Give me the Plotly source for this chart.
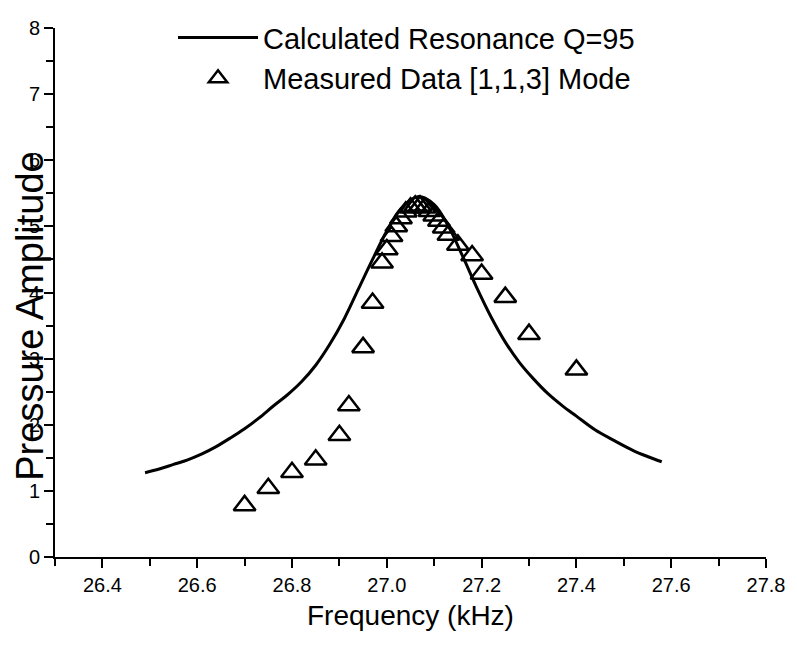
import plotly.graph_objects as go

# Calculated resonance curve
calc_freq = [26.49, 26.52, 26.55, 26.58, 26.61, 26.64, 26.67, 26.70, 26.73, 26.76,
             26.79, 26.82, 26.85, 26.88, 26.91, 26.94, 26.97, 27.00, 27.03, 27.065,
             27.10, 27.13, 27.16, 27.19, 27.22, 27.25, 27.28, 27.31, 27.34, 27.37,
             27.40, 27.44, 27.48, 27.52, 27.55, 27.58]
calc_amp = [1.275, 1.33, 1.40, 1.47, 1.56, 1.67, 1.80, 1.94, 2.10, 2.28,
            2.45, 2.65, 2.90, 3.22, 3.60, 4.05, 4.50, 4.93, 5.27, 5.45,
            5.33, 5.00, 4.55, 4.07, 3.63, 3.25, 2.94, 2.69, 2.47, 2.29,
            2.13, 1.92, 1.76, 1.61, 1.52, 1.44]

# Measured data, [1,1,3] mode
meas_freq = [26.70, 26.75, 26.80, 26.85, 26.90, 26.92, 26.95, 26.97, 26.99, 27.00,
             27.01, 27.02, 27.03, 27.04, 27.05, 27.06, 27.07, 27.08, 27.09, 27.10,
             27.11, 27.12, 27.13, 27.15, 27.18, 27.20, 27.25, 27.30, 27.40]
meas_amp = [0.78, 1.04, 1.28, 1.47, 1.84, 2.29, 3.17, 3.84, 4.45, 4.65,
            4.85, 5.00, 5.12, 5.22, 5.28, 5.31, 5.31, 5.28, 5.23, 5.16,
            5.08, 4.98, 4.87, 4.72, 4.56, 4.28, 3.93, 3.37, 2.83]

x_tick_vals = [26.4, 26.6, 26.8, 27.0, 27.2, 27.4, 27.6, 27.8]
x_tick_text = ["26.4", "26.6", "26.8", "27.0", "27.2", "27.4", "27.6", "27.8"]
y_tick_vals = [0, 1, 2, 3, 4, 5, 6, 7, 8]
y_tick_text = ["0", "1", "2", "3", "4", "5", "6", "7", "8"]

FONT = "Liberation Sans, Arial, sans-serif"

fig = go.Figure()
fig.add_trace(go.Scatter(
    x=calc_freq, y=calc_amp, mode="lines",
    name="Calculated Resonance Q=95",
    line=dict(color="black", width=3, shape="spline", smoothing=1.0),
))
fig.add_trace(go.Scatter(
    x=meas_freq, y=meas_amp, mode="markers",
    name="Measured Data [1,1,3] Mode",
    marker=dict(symbol="triangle-up-open", size=19, color="black",
                line=dict(color="black", width=2.5)),
))

axis_common = dict(
    showline=True, linecolor="black", linewidth=2,
    ticks="outside", tickcolor="black", tickwidth=2, ticklen=9,
    showgrid=False, zeroline=False, mirror=False,
    tickfont=dict(family=FONT, size=20, color="black"),
)

fig.update_layout(
    width=797, height=645,
    margin=dict(l=55, r=31, t=19, b=87.5),
    paper_bgcolor="white", plot_bgcolor="white",
    font=dict(family=FONT, color="black"),
    showlegend=True,
    legend=dict(
        x=0.166, y=1.03, xanchor="left", yanchor="top",
        bgcolor="rgba(0,0,0,0)", borderwidth=0,
        font=dict(family=FONT, size=29, color="black"),
        itemwidth=80, tracegroupgap=0,
    ),
    xaxis=dict(
        range=[26.3, 27.8], tickvals=x_tick_vals, ticktext=x_tick_text,
        minor=dict(ticks="outside", dtick=0.1, tick0=26.3, ticklen=7,
                   tickwidth=2, tickcolor="black"),
        **axis_common,
    ),
    yaxis=dict(
        range=[0, 8], tickvals=y_tick_vals, ticktext=y_tick_text,
        minor=dict(ticks="outside", dtick=0.5, tick0=0, ticklen=7,
                   tickwidth=2, tickcolor="black"),
        **axis_common,
    ),
    annotations=[
        dict(text="Frequency (kHz)", xref="paper", yref="paper",
             x=0.5, y=-0.11, xanchor="center", yanchor="middle",
             showarrow=False, font=dict(family=FONT, size=28, color="black")),
        dict(text="Pressure Amplitude", xref="paper", yref="paper",
             x=-0.0352, y=0.456, xanchor="center", yanchor="middle",
             textangle=-90, showarrow=False,
             font=dict(family=FONT, size=38, color="black")),
    ],
)

fig.write_html("out.html", config={"displayModeBar": False},
               post_script="document.body.style.margin='0px';")
